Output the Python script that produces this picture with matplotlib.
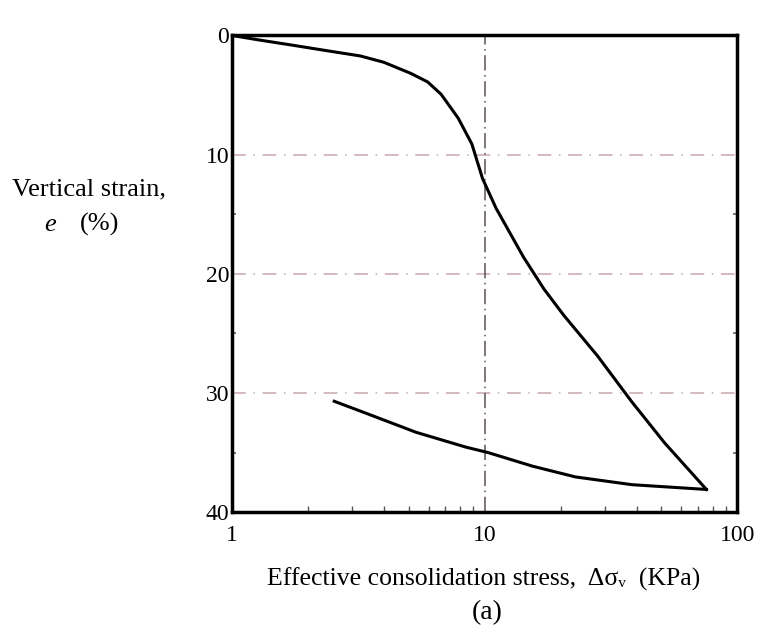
import numpy as np
import matplotlib.pyplot as plt
from matplotlib.ticker import FixedLocator, NullFormatter

# loading branch (stress in kPa, strain in %)
load_stress = [1, 1.28, 1.74, 2.36, 3.22, 3.99, 5.10, 5.95, 6.73, 7.86, 8.90,
               9.81, 11.1, 14.25, 17.2, 20.6, 28.0, 38.1, 51.6, 75.5]
load_strain = [0, 0.38, 0.82, 1.27, 1.72, 2.25, 3.18, 3.90, 4.94, 6.94, 9.1,
               12.0, 14.5, 18.6, 21.3, 23.5, 26.9, 30.7, 34.2, 38.1]

# unloading branch
unload_stress = [75.5, 38.3, 22.9, 15.5, 10.3, 8.44, 5.35, 3.39, 2.54]
unload_strain = [38.1, 37.7, 37.05, 36.15, 35.0, 34.55, 33.3, 31.7, 30.7]

y_ticks = [0, 10, 20, 30, 40]
y_minor = [15, 25, 35]
x_ticks = [1, 10, 100]
x_minor = [2, 3, 4, 5, 6, 7, 8, 9, 20, 30, 40, 50, 60, 70, 80, 90]

plt.rcParams['font.family'] = ['Liberation Serif', 'DejaVu Serif']

fig = plt.figure(figsize=(7.68, 6.33), dpi=100)
ax = fig.add_axes([0.302, 0.191, 0.658, 0.753])

# grid lines
for v in [10, 20, 30]:
    ax.axhline(v, color='#c9a6ab', lw=1.1, ls=(0, (9, 5, 1, 5)), zorder=1)
ax.axvline(10, color='#5e4f53', lw=1.1, ls=(0, (10, 3, 1, 3)), zorder=1)

ax.plot(load_stress, load_strain, color='black', lw=2.2, zorder=3)
ax.plot(unload_stress, unload_strain, color='black', lw=2.2, zorder=3)

ax.set_xscale('log')
ax.set_xlim(1, 100)
ax.set_ylim(40, 0)

ax.xaxis.set_major_locator(FixedLocator(x_ticks))
ax.xaxis.set_minor_locator(FixedLocator(x_minor))
ax.xaxis.set_minor_formatter(NullFormatter())
ax.set_xticklabels([str(t) for t in x_ticks])
ax.set_yticks(y_ticks)
ax.set_yticklabels([str(t) for t in y_ticks])
ax.yaxis.set_minor_locator(FixedLocator(y_minor))
ax.yaxis.set_minor_formatter(NullFormatter())

ax.tick_params(axis='x', which='major', direction='in', length=0, pad=9, labelsize=17)
ax.tick_params(axis='x', which='minor', direction='in', length=4, width=1, color='#555555')
ax.tick_params(axis='y', which='major', length=0, pad=2, labelsize=17)
ax.tick_params(axis='y', which='minor', direction='in', length=3, width=1.2,
               color='#666666', left=True, right=True)

for s in ax.spines.values():
    s.set_linewidth(2.5)

fig.text(0.015, 0.70, 'Vertical strain,', fontsize=19, ha='left', va='center')
fig.text(0.058, 0.645, 'e', fontsize=19, style='italic', ha='left', va='center')
fig.text(0.104, 0.645, '(%)', fontsize=19, ha='left', va='center')

fig.text(0.63, 0.085, 'Effective consolidation stress,  Δσᵥ  (KPa)', fontsize=18.5,
         ha='center', va='center')
fig.text(0.634, 0.033, '(a)', fontsize=20, ha='center', va='center')

fig.savefig('out.png', dpi=100)
